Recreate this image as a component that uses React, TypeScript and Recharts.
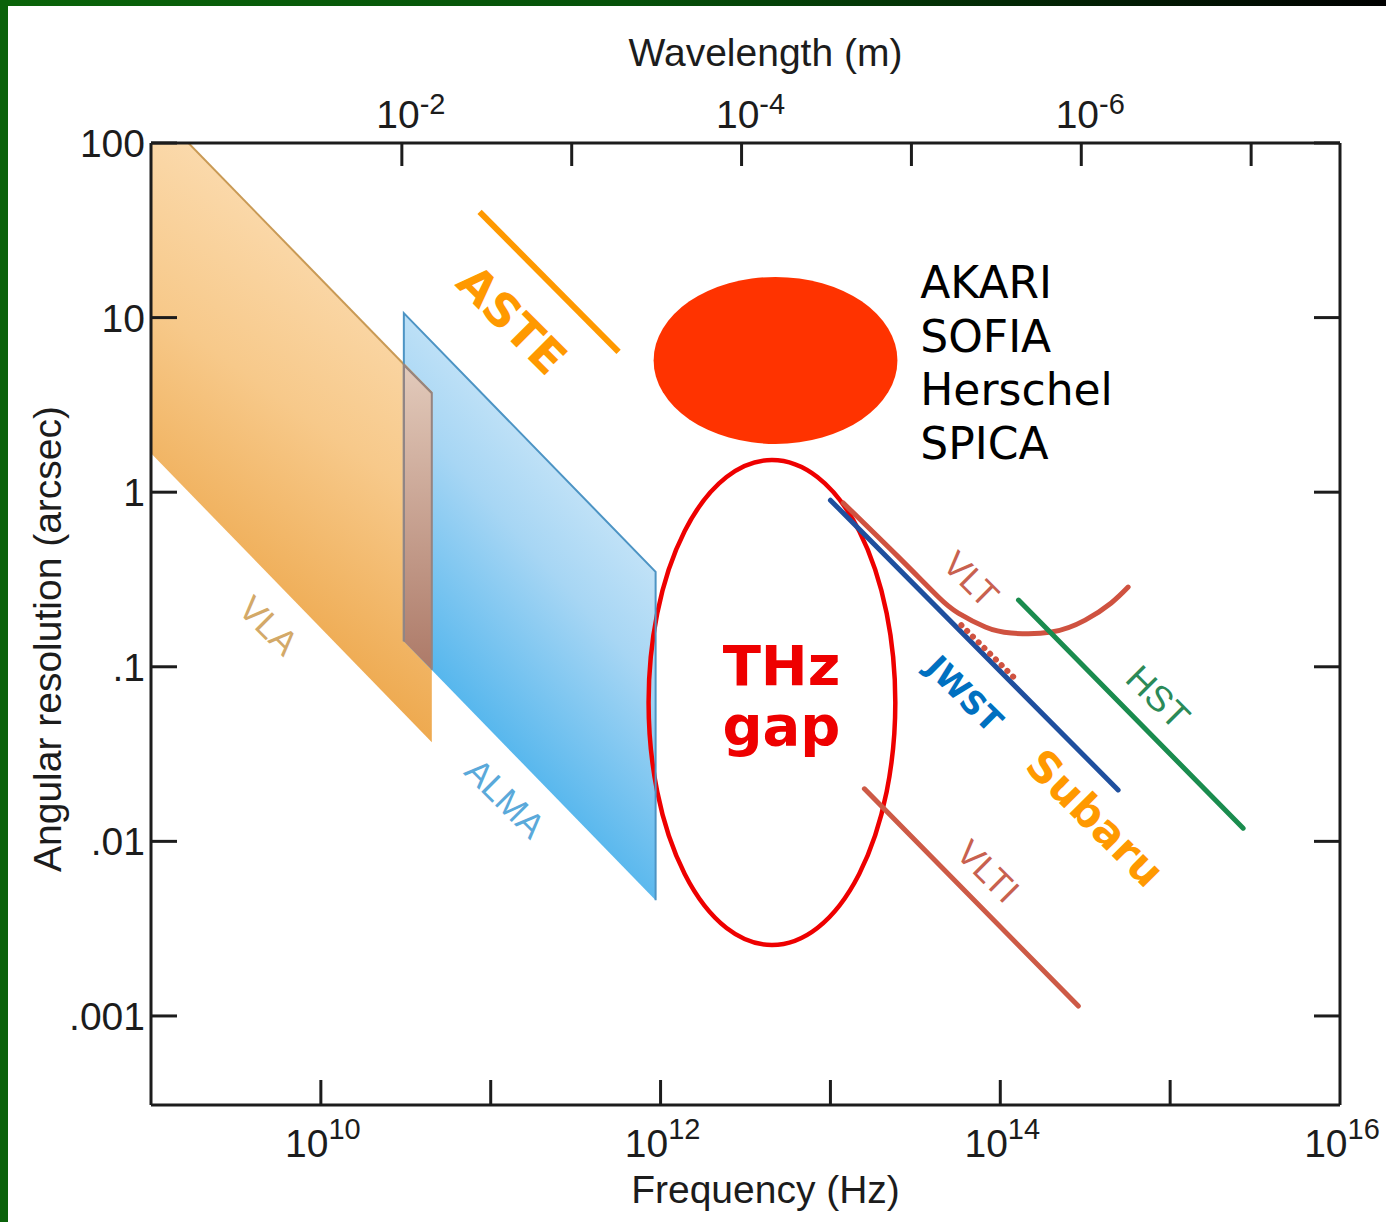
import React from "react";
import {
  ComposedChart,
  Area,
  Line,
  XAxis,
  YAxis,
  ReferenceArea,
  ReferenceDot,
} from "recharts";

const C_LIGHT = 2.998e8;

// angular resolution (arcsec) against frequency (Hz)
const VLA_FREQ = [1e9, 4.5e10];
const VLA_HIGH = [166, 3.7];
const VLA_LOW = [1.67, 0.037];

const ALMA_FREQ = [3.08e10, 9.35e11];
const ALMA_HIGH = [10.6, 0.35];
const ALMA_LOW = [0.14, 0.0046];

// where the VLA and ALMA bands overlap
const OVERLAP_FREQ = [3.08e10, 4.5e10];
const OVERLAP_HIGH = [5.35, 3.7];
const OVERLAP_LOW = [0.14, 0.096];

const ASTE_FREQ = [8.6e10, 5.66e11];
const ASTE_RES = [40.3, 6.36];

const JWST_FREQ = [1.0e13, 4.94e14];
const JWST_RES = [0.9, 0.0197];

const VLT_FREQ = [1.19e13, 2.51e13, 4.32e13, 5.66e13, 8.16e13, 1.16e14, 2.0e14, 3.16e14, 4.5e14, 5.66e14];
const VLT_RES = [0.867, 0.426, 0.251, 0.203, 0.169, 0.156, 0.158, 0.185, 0.232, 0.286];

const VLT_AO_FREQ = [5.9e13, 1.28e14];
const VLT_AO_RES = [0.173, 0.0818];

const HST_FREQ = [1.28e14, 2.69e15];
const HST_RES = [0.241, 0.0119];

const VLTI_FREQ = [1.585e13, 2.88e14];
const VLTI_RES = [0.02, 0.00114];

// extents of the far-IR missions blob and the THz gap outline
const FIR_FREQ = [9.1e11, 2.48e13];
const FIR_RES = [1.89, 17.1];
const GAP_FREQ = [8.5e11, 2.41e13];
const GAP_RES = [0.00255, 1.53];

const FREQ_TICKS = [1e10, 1e11, 1e12, 1e13, 1e14, 1e15, 1e16];
const WAVE_TICKS = [1e-2, 1e-3, 1e-4, 1e-5, 1e-6, 1e-7];
const RES_TICKS = [100, 10, 1, 0.1, 0.01, 0.001];
const RES_LABELS = ["100", "10", "1", ".1", ".01", ".001"];
const FIR_MISSIONS = ["AKARI", "SOFIA", "Herschel", "SPICA"];

// label anchors (freq, arcsec)
const LABELS = [
  { key: "ASTE", f: 1.33e11, r: 9.7 },
  { key: "VLA", f: 4.94e9, r: 0.173 },
  { key: "ALMA", f: 1.22e11, r: 0.0177 },
  { key: "VLT", f: 6.75e13, r: 0.318 },
  { key: "JWST", f: 6.14e13, r: 0.0698 },
  { key: "HST", f: 8.5e14, r: 0.0671 },
  { key: "Subaru", f: 3.62e14, r: 0.0136 },
  { key: "VLTI", f: 8.49e13, r: 0.00676 },
];
const GAP_LABEL = { f: 5.15e12, r: 0.0645 };
const FIR_LABEL = { f: 3.38e13, r: 12.9 };

const AXIS = "#1c1c1c";
const SANS = "'Liberation Sans', Arial, Helvetica, sans-serif";
const VERDANA = "'DejaVu Sans', Verdana, sans-serif";

const LABEL_STYLE: Record<string, any> = {
  ASTE: { fill: "#ff9900", fontSize: 46, fontWeight: 700, fontFamily: VERDANA },
  VLA: { fill: "#d3a968", fontSize: 35, fontFamily: SANS },
  ALMA: { fill: "#5aa9da", fontSize: 35, fontFamily: SANS },
  VLT: { fill: "#c8614f", fontSize: 35, fontFamily: SANS },
  JWST: { fill: "#0070c0", fontSize: 32, fontWeight: 700, fontFamily: VERDANA },
  HST: { fill: "#2b8a58", fontSize: 36, fontFamily: SANS },
  Subaru: { fill: "#ff9900", fontSize: 43, fontWeight: 700, fontFamily: VERDANA },
  VLTI: { fill: "#c8614f", fontSize: 35, fontFamily: SANS },
};

const band = (fs: number[], lo: number[], hi: number[]) =>
  fs.map((f, i) => ({ f, band: [lo[i], hi[i]] }));
const pts = (fs: number[], rs: number[]) => fs.map((f, i) => ({ f, r: rs[i] }));

const vlaBand = band(VLA_FREQ, VLA_LOW, VLA_HIGH);
const almaBand = band(ALMA_FREQ, ALMA_LOW, ALMA_HIGH);
const overlapBand = band(OVERLAP_FREQ, OVERLAP_LOW, OVERLAP_HIGH);
const vlaTop = pts(VLA_FREQ, VLA_HIGH);
const almaEdge = pts(
  [ALMA_FREQ[0], ALMA_FREQ[0], ALMA_FREQ[1], ALMA_FREQ[1]],
  [ALMA_LOW[0], ALMA_HIGH[0], ALMA_HIGH[1], ALMA_LOW[1]]
);
const overlapEdge = pts(
  [OVERLAP_FREQ[0], OVERLAP_FREQ[0], OVERLAP_FREQ[1], OVERLAP_FREQ[1]],
  [OVERLAP_LOW[0], OVERLAP_HIGH[0], OVERLAP_HIGH[1], OVERLAP_LOW[1]]
);

// top axis shares the frequency scale; ticks sit at c / wavelength
const WAVE_TICK_FREQ = WAVE_TICKS.map((l) => C_LIGHT / l);
const waveAnchor = WAVE_TICK_FREQ.map((f) => ({ f, r: 1 }));

const FreqTick = (props: any) => {
  const { x, y, payload } = props;
  const e = Math.round(Math.log10(payload.value));
  return (
    <g>
      {e < 16 && <line x1={x} x2={x} y1={y} y2={y - 25} stroke={AXIS} strokeWidth={3} />}
      {e % 2 === 0 && (
        <text x={x + 2} y={y + 52} textAnchor="middle" fontSize={39} fill={AXIS} fontFamily={SANS}>
          10
          <tspan dy={-18} fontSize={29}>
            {e}
          </tspan>
        </text>
      )}
    </g>
  );
};

const WaveTick = (props: any) => {
  const { x, y, payload } = props;
  const e = Math.round(Math.log10(C_LIGHT / payload.value));
  return (
    <g>
      <line x1={x} x2={x} y1={y} y2={y + 23} stroke={AXIS} strokeWidth={3} />
      {e % 2 === 0 && (
        <text x={x + 9} y={y - 15} textAnchor="middle" fontSize={39} fill={AXIS} fontFamily={SANS}>
          10
          <tspan dy={-14} fontSize={29}>
            {e}
          </tspan>
        </text>
      )}
    </g>
  );
};

const ResTick = (props: any) => {
  const { x, y, payload } = props;
  const i = RES_TICKS.findIndex((t) => Math.abs(t - payload.value) < t * 1e-6);
  return (
    <g>
      <line x1={x} x2={x + 26} y1={y} y2={y} stroke={AXIS} strokeWidth={3} />
      <text x={x - 6} y={y + 14} textAnchor="end" fontSize={39} fill={AXIS} fontFamily={SANS}>
        {RES_LABELS[i]}
      </text>
    </g>
  );
};

const RightTick = (props: any) => {
  const { x, y } = props;
  return <line x1={x} x2={x - 26} y1={y} y2={y} stroke={AXIS} strokeWidth={3} />;
};

const ellipse = (fill: string, stroke: string, sw: number) => (p: any) => (
  <ellipse
    cx={p.x + p.width / 2}
    cy={p.y + p.height / 2}
    rx={Math.abs(p.width) / 2}
    ry={Math.abs(p.height) / 2}
    fill={fill}
    stroke={stroke}
    strokeWidth={sw}
  />
);

const rotatedLabel = (text: string) => (p: any) => (
  <text
    transform={`translate(${p.cx},${p.cy}) rotate(45)`}
    textAnchor="middle"
    dominantBaseline="central"
    {...LABEL_STYLE[text]}
  >
    {text}
  </text>
);

const gapLabel = (p: any) => (
  <text x={p.cx} y={p.cy} textAnchor="middle" fill="#ee0000" fontSize={56} fontWeight={700} fontFamily={VERDANA}>
    <tspan x={p.cx} dy={-15}>THz</tspan>
    <tspan x={p.cx} dy={60}>gap</tspan>
  </text>
);

const firLabel = (p: any) => (
  <text x={p.cx} y={p.cy} fill="#000" fontSize={44} fontFamily={VERDANA}>
    {FIR_MISSIONS.map((m, i) => (
      <tspan key={m} x={p.cx} dy={i === 0 ? 0 : 53.5}>
        {m}
      </tspan>
    ))}
  </text>
);

export default function App() {
  const common = { xAxisId: "f", yAxisId: "r", isAnimationActive: false } as const;
  return (
    <div
      style={{
        position: "absolute",
        left: 0,
        top: 0,
        width: 1386,
        height: 1222,
        background: "#fff",
        overflow: "hidden",
      }}
    >
      <ComposedChart
        width={1386}
        height={1222}
        margin={{ top: 0, right: 0, bottom: 0, left: 0 }}
        style={{ position: "absolute", left: 0, top: 0 }}
      >
        <defs>
          <linearGradient id="vlaFill" x1="0.65" y1="0.05" x2="0.35" y2="1">
            <stop offset="0%" stopColor="#fde3bf" />
            <stop offset="45%" stopColor="#f7c98a" />
            <stop offset="100%" stopColor="#e9982f" />
          </linearGradient>
          <linearGradient id="almaFill" x1="0.75" y1="0.05" x2="0.3" y2="1">
            <stop offset="0%" stopColor="#e4f2fb" />
            <stop offset="40%" stopColor="#a7d6f4" />
            <stop offset="100%" stopColor="#199fe8" />
          </linearGradient>
          <linearGradient id="overlapFill" x1="0" y1="0" x2="0" y2="1">
            <stop offset="0%" stopColor="#e2cabb" />
            <stop offset="100%" stopColor="#ad7a68" />
          </linearGradient>
        </defs>

        <XAxis
          xAxisId="f"
          dataKey="f"
          type="number"
          scale="log"
          domain={[1e9, 1e16]}
          allowDataOverflow
          ticks={FREQ_TICKS}
          interval={0}
          tick={(p: any) => <FreqTick {...p} />}
          tickLine={false}
          tickSize={0}
          tickMargin={0}
          height={117}
          axisLine={{ stroke: AXIS, strokeWidth: 3 }}
          label={{
            content: (p: any) => (
              <text
                x={p.viewBox.x + p.viewBox.width / 2 + 20}
                y={p.viewBox.y + 98}
                textAnchor="middle"
                fontSize={39}
                fill={AXIS}
                fontFamily={SANS}
              >
                Frequency (Hz)
              </text>
            ),
          }}
        />
        <XAxis
          xAxisId="w"
          dataKey="f"
          orientation="top"
          type="number"
          scale="log"
          domain={[1e9, 1e16]}
          allowDataOverflow
          ticks={WAVE_TICK_FREQ}
          interval={0}
          tick={(p: any) => <WaveTick {...p} />}
          tickLine={false}
          tickSize={0}
          tickMargin={0}
          height={143}
          axisLine={{ stroke: AXIS, strokeWidth: 3 }}
          label={{
            content: (p: any) => (
              <text
                x={p.viewBox.x + p.viewBox.width / 2 + 20}
                y={66}
                textAnchor="middle"
                fontSize={39}
                fill={AXIS}
                fontFamily={SANS}
              >
                Wavelength (m)
              </text>
            ),
          }}
        />
        <YAxis
          yAxisId="r"
          type="number"
          scale="log"
          domain={[3.09e-4, 100]}
          allowDataOverflow
          ticks={RES_TICKS}
          interval={0}
          tick={(p: any) => <ResTick {...p} />}
          tickLine={false}
          tickSize={0}
          tickMargin={0}
          width={151}
          axisLine={{ stroke: AXIS, strokeWidth: 3 }}
          label={{
            content: (p: any) => {
              const cy = p.viewBox.y + p.viewBox.height / 2 + 15;
              return (
                <text
                  transform={`translate(61,${cy}) rotate(-90)`}
                  textAnchor="middle"
                  fontSize={39}
                  fill={AXIS}
                  fontFamily={SANS}
                >
                  Angular resolution (arcsec)
                </text>
              );
            },
          }}
        />
        <YAxis
          yAxisId="r2"
          orientation="right"
          type="number"
          scale="log"
          domain={[3.09e-4, 100]}
          allowDataOverflow
          ticks={RES_TICKS}
          interval={0}
          tick={(p: any) => <RightTick {...p} />}
          tickLine={false}
          tickSize={0}
          tickMargin={0}
          width={46}
          axisLine={{ stroke: AXIS, strokeWidth: 3 }}
        />

        {/* invisible series so the wavelength axis has items bound to it */}
        <Line
          xAxisId="w"
          yAxisId="r"
          data={waveAnchor}
          dataKey="r"
          stroke="none"
          dot={false}
          activeDot={false}
          isAnimationActive={false}
        />

        <Area {...common} data={vlaBand} dataKey="band" type="linear" fill="url(#vlaFill)" fillOpacity={1} stroke="none" />
        <Area {...common} data={almaBand} dataKey="band" type="linear" fill="url(#almaFill)" fillOpacity={1} stroke="none" />
        <Area {...common} data={overlapBand} dataKey="band" type="linear" fill="url(#overlapFill)" fillOpacity={1} stroke="none" />
        <Line {...common} data={vlaTop} dataKey="r" type="linear" stroke="#c99a55" strokeWidth={2} dot={false} />
        <Line {...common} data={almaEdge} dataKey="r" type="linear" stroke="#4d94c4" strokeWidth={2} dot={false} />
        <Line {...common} data={overlapEdge} dataKey="r" type="linear" stroke="#968480" strokeWidth={2} dot={false} />

        <Line {...common} data={pts(ASTE_FREQ, ASTE_RES)} dataKey="r" type="linear" stroke="#ff9900" strokeWidth={6} dot={false} />
        <Line {...common} data={pts(JWST_FREQ, JWST_RES)} dataKey="r" type="linear" stroke="#1f4f9e" strokeWidth={5} strokeLinecap="round" dot={false} />
        <Line {...common} data={pts(VLT_FREQ, VLT_RES)} dataKey="r" type="natural" stroke="#cf5240" strokeWidth={5} strokeLinecap="round" dot={false} />
        <Line
          {...common}
          data={pts(VLT_AO_FREQ, VLT_AO_RES)}
          dataKey="r"
          type="linear"
          stroke="#cf5240"
          strokeWidth={6}
          strokeDasharray="0.1 8"
          strokeLinecap="round"
          dot={false}
        />
        <Line {...common} data={pts(HST_FREQ, HST_RES)} dataKey="r" type="linear" stroke="#1a8c4e" strokeWidth={5} strokeLinecap="round" dot={false} />
        <Line {...common} data={pts(VLTI_FREQ, VLTI_RES)} dataKey="r" type="linear" stroke="#cd5a46" strokeWidth={5} strokeLinecap="round" dot={false} />

        <ReferenceArea
          xAxisId="f"
          yAxisId="r"
          x1={FIR_FREQ[0]}
          x2={FIR_FREQ[1]}
          y1={FIR_RES[0]}
          y2={FIR_RES[1]}
          shape={ellipse("#ff3300", "none", 0)}
        />
        <ReferenceArea
          xAxisId="f"
          yAxisId="r"
          x1={GAP_FREQ[0]}
          x2={GAP_FREQ[1]}
          y1={GAP_RES[0]}
          y2={GAP_RES[1]}
          shape={ellipse("none", "#ee0000", 4.5)}
        />

        {LABELS.map((l) => (
          <ReferenceDot key={l.key} xAxisId="f" yAxisId="r" x={l.f} y={l.r} r={0} shape={rotatedLabel(l.key)} />
        ))}
        <ReferenceDot xAxisId="f" yAxisId="r" x={GAP_LABEL.f} y={GAP_LABEL.r} r={0} shape={gapLabel} />
        <ReferenceDot xAxisId="f" yAxisId="r" x={FIR_LABEL.f} y={FIR_LABEL.r} r={0} shape={firLabel} />
      </ComposedChart>
      <div
        style={{
          position: "absolute",
          left: 0,
          top: 0,
          width: 1386,
          height: 6,
          background: "linear-gradient(to right, #0a640a 0%, #06520a 45%, #000 100%)",
        }}
      />
      <div style={{ position: "absolute", left: 0, top: 0, width: 8, height: 1222, background: "#0a620a" }} />
    </div>
  );
}
